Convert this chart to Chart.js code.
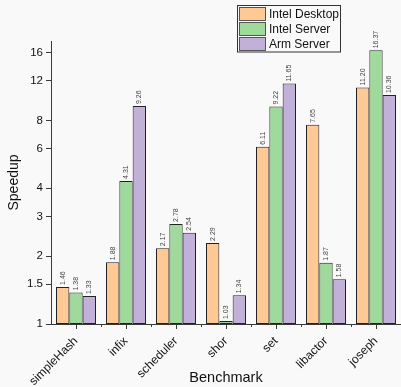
<!DOCTYPE html>
<html>
<head>
<meta charset="utf-8">
<script src="https://cdn.jsdelivr.net/npm/chart.js@4.4.1/dist/chart.umd.min.js"></script>
<style>
    html, body { margin: 0; padding: 0; background: #f9f9f9; }
    #wrap { width: 401px; height: 387px; }
</style>
</head>
<body>
<div id="wrap"><canvas id="speedup-chart" width="401" height="387"></canvas></div>
<script>
// Chart data
const benchmarks = ["simpleHash", "infix", "scheduler", "shor", "set", "libactor", "joseph"];
const intelDesktop = [1.46, 1.88, 2.17, 2.29, 6.11, 7.65, 11.20];
const intelServer = [1.38, 4.31, 2.78, 1.03, 9.22, 1.87, 16.37];
const armServer = [1.33, 9.26, 2.54, 1.34, 11.65, 1.58, 10.36];
const yTicks = [1, 1.5, 2, 3, 4, 6, 8, 12, 16];

const FONT = "'Liberation Sans', Arial, sans-serif";
const AXIS = "#3a3a3a";

// Rotated value labels above each bar
const valueLabels = {
    id: "valueLabels",
    afterDatasetsDraw(chart) {
        const ctx = chart.ctx;
        ctx.save();
        ctx.font = "7px " + FONT;
        ctx.fillStyle = "#444";
        ctx.textAlign = "left";
        ctx.textBaseline = "middle";
        chart.data.datasets.forEach((ds, i) => {
            chart.getDatasetMeta(i).data.forEach((bar, j) => {
                ctx.save();
                ctx.translate(bar.x, bar.y - 2);
                ctx.rotate(-Math.PI / 2);
                ctx.fillText(ds.data[j].toFixed(2), 0, 0);
                ctx.restore();
            });
        });
        ctx.restore();
    },
};

// Minor ticks between categories + boxed legend
const extras = {
    id: "extras",
    afterDraw(chart) {
        const ctx = chart.ctx;
        const x = chart.scales.x;
        const bottom = chart.chartArea.bottom;
        ctx.save();
        ctx.strokeStyle = AXIS;
        ctx.lineWidth = 1;
        const step = x.getPixelForValue(1) - x.getPixelForValue(0);
        for (let i = 0; i < benchmarks.length; i++) {
            const px = Math.round(x.getPixelForValue(i) + step / 2) + 0.5;
            ctx.beginPath();
            ctx.moveTo(px, bottom);
            ctx.lineTo(px, bottom + 3);
            ctx.stroke();
        }

        // legend
        const lx = 237.5, ly = 5.5, lw = 103, lh = 46.5;
        ctx.fillStyle = "#f9f9f9";
        ctx.fillRect(lx, ly, lw, lh);
        ctx.strokeStyle = "#333";
        ctx.strokeRect(lx, ly, lw, lh);
        ctx.font = "12px " + FONT;
        ctx.textBaseline = "middle";
        ctx.textAlign = "left";
        chart.data.datasets.forEach((ds, i) => {
            const sy = 7.5 + i * 15;
            ctx.fillStyle = ds.backgroundColor;
            ctx.fillRect(239, sy, 26, 13);
            ctx.strokeStyle = "#555";
            ctx.strokeRect(239.5, sy, 26, 13);
            ctx.fillStyle = "#111";
            ctx.fillText(ds.label, 269, sy + 7);
        });
        ctx.restore();
    },
};

const makeSet = (label, data, color) => ({
    label,
    data,
    backgroundColor: color,
    borderColor: "#222",
    borderWidth: 1,
    borderSkipped: false,
    categoryPercentage: 0.8,
    barPercentage: 1.0,
});

new Chart(document.getElementById("speedup-chart"), {
    type: "bar",
    data: {
        labels: benchmarks,
        datasets: [
            makeSet("Intel Desktop", intelDesktop, "#fec995"),
            makeSet("Intel Server", intelServer, "#9fd99c"),
            makeSet("Arm Server", armServer, "#c1b1d9"),
        ],
    },
    options: {
        responsive: false,
        animation: false,
        layout: { padding: { top: 41, left: 0, right: 0, bottom: 0 } },
        plugins: {
            legend: { display: false },
            tooltip: { enabled: false },
        },
        scales: {
            x: {
                grid: { drawOnChartArea: false, drawTicks: true, tickLength: 5, color: AXIS, offset: false },
                border: { display: true, color: AXIS, width: 1 },
                ticks: {
                    minRotation: 45,
                    maxRotation: 45,
                    padding: 5,
                    color: "#111",
                    font: { family: FONT, size: 12 },
                },
                title: {
                    display: true,
                    text: "Benchmark",
                    color: "#111",
                    font: { family: FONT, size: 14.5 },
                    padding: { top: 0, bottom: 0 },
                },
                afterFit(scale) {
                    scale.height = 63;
                    scale.paddingLeft = 0;
                    scale.paddingRight = 0;
                },
            },
            y: {
                type: "logarithmic",
                min: 1,
                max: 18,
                grid: { drawOnChartArea: false, drawTicks: true, tickLength: 5, color: AXIS },
                border: { display: true, color: AXIS, width: 1 },
                afterBuildTicks(scale) {
                    scale.ticks = yTicks.map((v) => ({ value: v }));
                },
                ticks: {
                    padding: 3,
                    color: "#111",
                    font: { family: FONT, size: 11.5 },
                    callback: (v) => String(v),
                },
                title: {
                    display: true,
                    text: "Speedup",
                    color: "#111",
                    font: { family: FONT, size: 14 },
                    padding: { top: 6, bottom: 0 },
                },
                afterFit(scale) {
                    scale.width = 51;
                    scale.paddingTop = 0;
                    scale.paddingBottom = 0;
                },
            },
        },
    },
    plugins: [valueLabels, extras],
});
</script>
</body>
</html>
